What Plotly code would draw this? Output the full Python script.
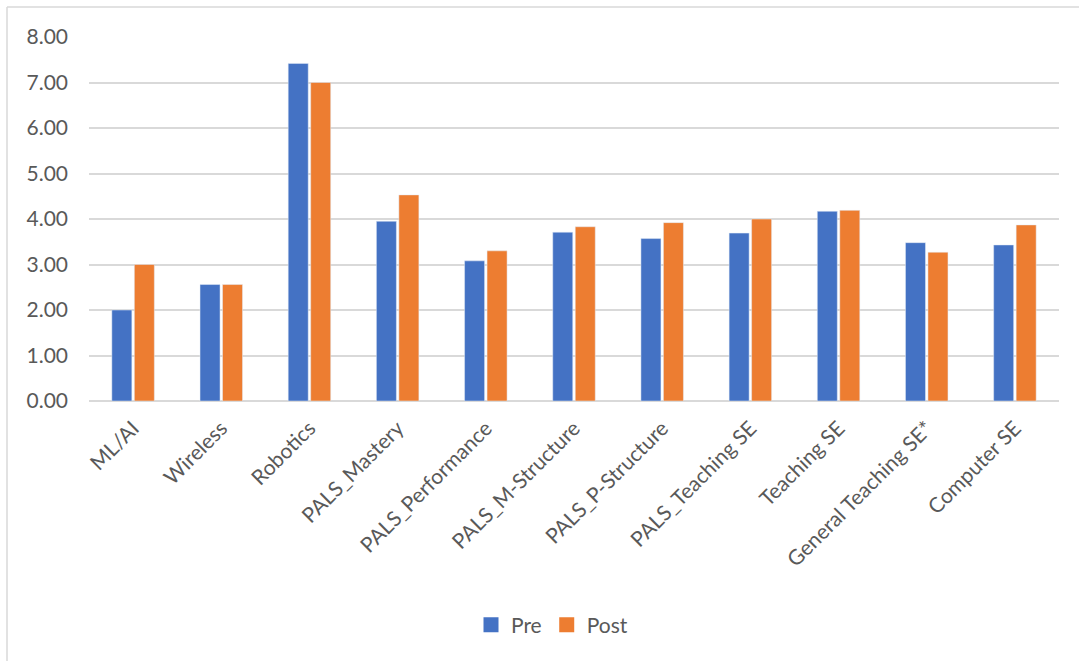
import plotly.graph_objects as go

categories = ["ML/AI", "Wireless", "Robotics", "PALS_Mastery", "PALS_Performance",
              "PALS_M-Structure", "PALS_P-Structure", "PALS_Teaching SE", "Teaching SE",
              "General Teaching SE*", "Computer SE"]
pre = [2.00, 2.56, 7.42, 3.95, 3.08, 3.71, 3.57, 3.69, 4.17, 3.48, 3.43]
post = [3.00, 2.56, 7.00, 4.53, 3.30, 3.83, 3.92, 4.00, 4.19, 3.27, 3.87]
y_ticks = [0, 1, 2, 3, 4, 5, 6, 7, 8]
series_names = ["Pre", "Post"]
series_colors = ["#4472C4", "#ED7D31"]

FONT = "Lato, 'Open Sans', sans-serif"
TXT = "#595959"

fig = go.Figure()
for name, vals, col in zip(series_names, [pre, post], series_colors):
    fig.add_trace(go.Bar(name=name, x=categories, y=vals, marker_color=col,
                         showlegend=False))
for name, col in zip(series_names, series_colors):
    fig.add_trace(go.Scatter(name=name, x=[None], y=[None], mode="markers",
                             marker=dict(symbol="square", size=15, color=col),
                             showlegend=True))

W, H = 1079, 661
L, R, T, B = 89, 20, 37, 260
pw, ph = W - L - R, H - T - B

fig.update_layout(
    width=W, height=H,
    margin=dict(l=L, r=R, t=T, b=B),
    paper_bgcolor="white", plot_bgcolor="white",
    barmode="group", bargap=0.49, bargroupgap=0.11,
    font=dict(family=FONT, size=21, color=TXT),
    showlegend=True,
    legend=dict(orientation="h", x=(552 - L) / pw, xanchor="center",
                y=(T + ph - 625) / ph, yanchor="middle",
                font=dict(family=FONT, size=21, color=TXT),
                itemsizing="trace", itemwidth=30, tracegroupgap=0),
    xaxis=dict(tickangle=-45, showgrid=False, showline=False, ticks="",
               ticklabelstandoff=10,
               tickfont=dict(family=FONT, size=21, color=TXT)),
    yaxis=dict(range=[0, 8], tickvals=y_ticks, tickformat=".2f",
               showgrid=True, gridcolor="#D9D9D9", gridwidth=1.5,
               zeroline=True, zerolinecolor="#D9D9D9", zerolinewidth=1.5,
               showline=False, ticks="", ticklabelstandoff=20,
               tickfont=dict(family=FONT, size=21, color=TXT)),
    shapes=[
        dict(type="line", xref="paper", yref="paper",
             x0=(7 - L) / pw, x1=(7 - L) / pw, y0=(T + ph - 7) / ph, y1=(T + ph - H) / ph,
             line=dict(color="#D9D9D9", width=1.5)),
        dict(type="line", xref="paper", yref="paper",
             x0=(7 - L) / pw, x1=(W - L) / pw, y0=(T + ph - 7) / ph, y1=(T + ph - 7) / ph,
             line=dict(color="#D9D9D9", width=1.5)),
    ],
)

fig.write_html("out.html")
